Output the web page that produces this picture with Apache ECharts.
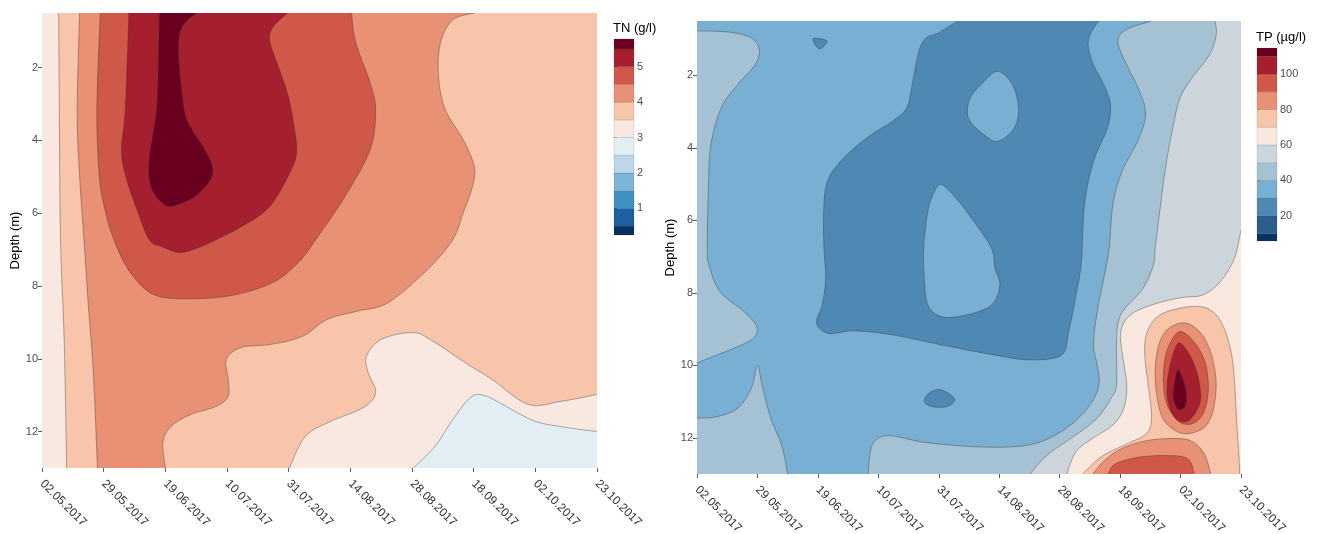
<!DOCTYPE html>
<html>
<head>
<meta charset="utf-8">
<script src="https://cdn.jsdelivr.net/npm/echarts@6/dist/echarts.min.js"></script>
<style>
  html, body { margin: 0; padding: 0; background: #ffffff; }
  #chart { width: 1322px; height: 534px; }
</style>
</head>
<body>
<div id="chart"></div>
<script>
// Sampling dates (evenly spaced sampling index on the x axis)
const sampleDates = ['02.05.2017', '29.05.2017', '19.06.2017', '10.07.2017', '31.07.2017',
                     '14.08.2017', '28.08.2017', '18.09.2017', '02.10.2017', '23.10.2017'];
const depthTicks = [2, 4, 6, 8, 10, 12];
const depthRange = [0.5, 13];
const indexRange = [0, 9];

// Colour classes (lower bounds of each class, plus the upper limit)
const tnBreaks = [0.25, 0.5, 1, 1.5, 2, 2.5, 3, 3.5, 4, 4.5, 5, 5.5, 5.78];
const tnColors = ['#053061', '#1f5fa4', '#4190c4', '#7cb5d7', '#bad8ea', '#e3edf4',
                  '#f9e8e0', '#f8c5ab', '#e99174', '#d05848', '#a61f2e', '#6a0020'];
const tnLegendTicks = [1, 2, 3, 4, 5];

const tpBreaks = [5.8, 10, 20, 30, 40, 50, 60, 70, 80, 90, 100, 110, 114.7];
const tpColors = ['#0b3162', '#2d5d8c', '#4f88b3', '#7aafd4', '#a5c2d5', '#ccd5db',
                  '#f9e8e0', '#f8c5ab', '#e99174', '#d05848', '#a61f2e', '#6a0020'];
const tpLegendTicks = [20, 40, 60, 80, 100];

// ---- TN isolines: [sampling index, depth m] ----
const tnIso35a = [[0.27, 0.5], [0.28, 3], [0.30, 6.7], [0.36, 9.5], [0.40, 13]];
const tnIso35b = [[4.01, 13], [4.27, 12.13], [4.68, 11.72], [5.21, 11.34], [5.41, 10.93], [5.29, 10.38],
                  [5.26, 9.94], [5.5, 9.47], [6.02, 9.28], [6.37, 9.55], [6.83, 10.07], [7.3, 10.57],
                  [7.88, 11.25], [8.41, 11.17], [9, 10.98]];
const tnIso40a = [[0.61, 0.5], [0.57, 3.2], [0.61, 5.0], [0.68, 6.7], [0.75, 8.5], [0.83, 10.3], [0.9, 13]];
const tnIso40b = [[2.0, 13], [1.96, 12.3], [2.09, 11.86], [2.41, 11.53], [2.82, 11.31], [3.02, 11.03],
                  [3.02, 10.57], [2.99, 10.02], [3.23, 9.69], [3.69, 9.61], [4.22, 9.39], [4.62, 8.92],
                  [5.09, 8.7], [5.61, 8.46], [6.25, 7.55], [6.66, 6.73], [6.83, 5.99], [6.98, 5.27],
                  [7.01, 4.72], [6.83, 3.98], [6.54, 3.16], [6.43, 2.26], [6.46, 1.32], [6.66, 0.69], [7.01, 0.5]];
const tnIso45 = [[0.945, 0.5], [0.89, 3.2], [0.93, 5.0], [1.02, 5.9], [1.16, 6.7], [1.42, 7.6], [1.83, 8.25],
                 [2.47, 8.35], [3.11, 8.25], [3.75, 7.9], [4.16, 7.35], [4.45, 6.7], [4.91, 5.55], [5.32, 4.26],
                 [5.41, 3.16], [5.32, 2.42], [5.09, 1.32], [5.02, 0.5]];
const tnIso50 = [[1.41, 0.5], [1.35, 3.16], [1.29, 4.26], [1.36, 5.0], [1.54, 5.9], [1.74, 6.73], [1.95, 6.92],
                 [2.24, 7.08], [2.53, 6.95], [2.82, 6.73], [3.23, 6.37], [3.69, 5.82], [4.04, 4.81], [4.13, 4.26],
                 [4.07, 3.44], [3.98, 2.7], [3.81, 1.87], [3.69, 1.24], [3.75, 0.88], [3.98, 0.5]];
const tnIso55 = [[1.905, 0.5], [1.89, 1.8], [1.86, 3.16], [1.74, 4.53], [1.77, 5.27], [1.95, 5.71], [2.12, 5.8],
                 [2.47, 5.55], [2.73, 5.08], [2.76, 4.72], [2.64, 4.26], [2.35, 3.44], [2.27, 2.7],
                 [2.21, 1.52], [2.27, 0.88], [2.5, 0.5]];
const tnIso30 = [[6.02, 13], [6.37, 12.41], [6.66, 11.67], [6.95, 11.06], [7.18, 11.01], [7.53, 11.31],
                 [8.0, 11.72], [8.52, 11.89], [9, 12.0]];

// ---- TP isolines: [sampling index, depth m] ----
const tpIso40a = [[0, 0.77], [0.55, 0.81], [0.90, 0.97], [1.03, 1.29], [0.96, 1.71], [0.67, 2.26], [0.40, 2.9],
                  [0.23, 3.91], [0.19, 5.02], [0.17, 6.76], [0.20, 7.23], [0.38, 7.97], [0.78, 8.52],
                  [0.99, 8.94], [0.93, 9.26], [0.61, 9.53], [0.26, 9.76], [0, 9.94]];
const tpIso40b = [[0, 11.46], [0.32, 11.42], [0.67, 11.19], [0.90, 10.63], [1.0, 10.0], [1.075, 10.54],
                  [1.22, 11.46], [1.40, 12.2], [1.50, 13]];
const tpIso40c = [[2.83, 13], [2.88, 12.29], [3.0, 12.01], [3.23, 11.95], [3.70, 12.11], [4.17, 12.2],
                  [4.63, 12.25], [5.22, 12.25], [5.69, 12.11], [6.15, 11.69], [6.50, 11.10], [6.65, 10.54],
                  [6.62, 9.99], [6.56, 9.44], [6.62, 8.52], [6.73, 7.60], [6.82, 6.76], [6.88, 5.57],
                  [7.03, 4.65], [7.29, 3.82], [7.42, 3.09], [7.32, 2.44], [7.03, 1.43], [6.97, 0.97],
                  [7.15, 0.7], [7.52, 0.5]];
const tpIso20 = [[4.31, 0.5], [3.99, 0.83], [3.79, 0.97], [3.67, 1.34], [3.56, 2.26], [3.47, 2.90], [3.23, 3.27],
                 [2.88, 3.64], [2.48, 4.19], [2.18, 4.83], [2.10, 5.57], [2.10, 6.76], [2.13, 7.60], [2.07, 8.34],
                 [1.98, 8.84], [2.18, 9.12], [2.59, 9.05], [3.23, 9.16], [4.05, 9.44], [4.93, 9.72], [5.51, 9.85],
                 [6.03, 9.72], [6.15, 9.07], [6.27, 8.06], [6.36, 7.14], [6.41, 5.57], [6.56, 4.37], [6.79, 3.45],
                 [6.84, 2.81], [6.73, 2.26], [6.56, 1.71], [6.47, 1.16], [6.53, 0.79], [6.65, 0.5]];
const tpIsle30a = [[4.98, 1.89], [5.22, 2.26], [5.32, 2.90], [5.25, 3.45], [4.98, 3.82], [4.75, 3.64],
                   [4.49, 3.18], [4.52, 2.63], [4.75, 2.17]];
const tpIsle30b = [[4.05, 5.02], [4.28, 5.38], [4.58, 6.03], [4.87, 6.76], [4.93, 7.32], [5.01, 7.79],
                   [4.87, 8.34], [4.46, 8.61], [4.05, 8.66], [3.82, 8.34], [3.76, 7.60], [3.75, 6.76],
                   [3.82, 5.75], [3.93, 5.20]];
const tpIsle20a = [[1.92, 0.99], [2.15, 1.05], [2.02, 1.27]];
const tpIsle20b = [[3.76, 10.96], [3.87, 10.73], [4.05, 10.68], [4.26, 10.92], [4.17, 11.12], [3.99, 11.16], [3.82, 11.10]];
const tpIso50 = [[8.57, 0.5], [8.59, 0.88], [8.48, 1.43], [8.19, 2.07], [7.99, 2.63], [7.87, 3.45], [7.75, 4.56],
                 [7.67, 5.57], [7.58, 6.76], [7.55, 7.23], [7.38, 7.88], [7.08, 8.43], [6.97, 8.80], [6.94, 9.44],
                 [6.94, 10.54], [6.85, 10.91], [6.62, 11.46], [6.27, 11.92], [5.80, 12.47], [5.51, 13]];
const tpIso60 = [[9, 6.27], [8.89, 7.05], [8.66, 7.69], [8.37, 8.06], [8.02, 8.13], [7.55, 8.32], [7.17, 8.61],
                 [7.01, 9.07], [7.04, 9.72], [7.11, 10.54], [7.06, 11.19], [6.88, 11.65], [6.56, 12.0],
                 [6.27, 12.38], [6.12, 13]];
const tpIso70 = [[6.38, 13], [6.56, 12.70], [6.78, 12.43], [7.11, 12.17], [7.44, 11.88], [7.52, 11.42],
                 [7.47, 10.59], [7.41, 9.76], [7.44, 9.12], [7.66, 8.61], [8.16, 8.38], [8.49, 8.47],
                 [8.71, 8.94], [8.85, 9.76], [8.90, 10.68], [8.93, 11.60], [8.96, 12.34], [8.98, 13]];
const tpIso80a = [[7.99, 8.84], [7.77, 9.03], [7.63, 9.49], [7.58, 10.22], [7.62, 10.96], [7.72, 11.51],
                  [7.94, 11.83], [8.16, 11.88], [8.41, 11.69], [8.54, 11.23], [8.59, 10.50], [8.52, 9.76],
                  [8.38, 9.21], [8.18, 8.89]];
const tpIso80b = [[6.55, 13], [6.72, 12.66], [7.0, 12.32], [7.43, 12.08], [7.96, 12.02], [8.22, 12.13],
                  [8.40, 12.47], [8.50, 13]];
const tpIso90a = [[7.99, 9.07], [7.80, 9.49], [7.72, 10.13], [7.74, 10.87], [7.85, 11.32], [8.02, 11.60],
                  [8.21, 11.60], [8.38, 11.32], [8.46, 10.68], [8.41, 9.94], [8.24, 9.39]];
const tpIso90b = [[6.80, 13], [6.92, 12.72], [7.30, 12.54], [7.77, 12.49], [8.12, 12.58], [8.23, 13]];
const tpIso100 = [[7.96, 9.39], [7.85, 9.85], [7.78, 10.50], [7.80, 11.05], [7.91, 11.46], [8.05, 11.56],
                  [8.18, 11.46], [8.32, 11.05], [8.32, 10.59], [8.24, 10.04], [8.10, 9.58]];
const tpIso110 = [[7.96, 10.13], [7.90, 10.50], [7.88, 10.87], [7.93, 11.14], [7.99, 11.23], [8.07, 11.14],
                  [8.10, 10.87], [8.06, 10.50]];

// Filled areas, painted in order (level = lower bound of the class)
const tnAreas = [
  { level: 3,   parts: ['TL', 'BL', 'BR', 'TR'] },
  { level: 3.5, parts: [tnIso35a, tnIso35b, 'TR'] },
  { level: 4,   parts: [tnIso40a, tnIso40b] },
  { level: 4.5, parts: [tnIso45] },
  { level: 5,   parts: [tnIso50] },
  { level: 5.5, parts: [tnIso55] },
  { level: 2.5, parts: [tnIso30, 'BR'] }
];
const tpAreas = [
  { level: 40,  parts: ['TL', 'BL', 'BR', 'TR'] },
  { level: 30,  parts: [tpIso40a, tpIso40b, tpIso40c, 'TL'] },
  { level: 20,  parts: [tpIso20] },
  { level: 30,  parts: [tpIsle30a], loop: true },
  { level: 30,  parts: [tpIsle30b], loop: true },
  { level: 20,  parts: [tpIsle20a], loop: true },
  { level: 20,  parts: [tpIsle20b], loop: true },
  { level: 50,  parts: [tpIso50, 'BR', 'TR'] },
  { level: 60,  parts: [tpIso60, 'BR'] },
  { level: 70,  parts: [tpIso70] },
  { level: 80,  parts: [tpIso80a], loop: true },
  { level: 80,  parts: [tpIso80b] },
  { level: 90,  parts: [tpIso90a], loop: true },
  { level: 90,  parts: [tpIso90b] },
  { level: 100, parts: [tpIso100], loop: true },
  { level: 110, parts: [tpIso110], loop: true }
];

const CORNERS = {
  TL: [indexRange[0], depthRange[0]], TR: [indexRange[1], depthRange[0]],
  BL: [indexRange[0], depthRange[1]], BR: [indexRange[1], depthRange[1]]
};
const FONT = '"Liberation Sans", Arial, sans-serif';

function classColor(value, breaks, colors) {
  for (let i = colors.length - 1; i >= 0; i--) if (value >= breaks[i] - 1e-9) return colors[i];
  return colors[0];
}

// Catmull-Rom curve through pixel points, as SVG cubic segments
function curveSegments(p, closed) {
  const n = p.length;
  const get = i => closed ? p[(i + n) % n] : p[Math.max(0, Math.min(n - 1, i))];
  const last = closed ? n : n - 1;
  let s = '';
  for (let i = 0; i < last; i++) {
    const p0 = get(i - 1), p1 = get(i), p2 = get(i + 1), p3 = get(i + 2);
    const c1x = p1[0] + (p2[0] - p0[0]) / 6, c1y = p1[1] + (p2[1] - p0[1]) / 6;
    const c2x = p2[0] - (p3[0] - p1[0]) / 6, c2y = p2[1] - (p3[1] - p1[1]) / 6;
    s += 'C' + c1x + ' ' + c1y + ' ' + c2x + ' ' + c2y + ' ' + p2[0] + ' ' + p2[1];
  }
  return s;
}

function areaRenderer(areas, breaks, colors) {
  return function (params, api) {
    const area = areas[params.dataIndex];
    let fill = '', stroke = '';
    area.parts.forEach(part => {
      if (typeof part === 'string') {
        const c = api.coord(CORNERS[part]);
        fill += (fill ? 'L' : 'M') + c[0] + ' ' + c[1];
        return;
      }
      const pts = part.map(v => api.coord(v));
      const seg = curveSegments(pts, !!area.loop);
      fill += (fill ? 'L' : 'M') + pts[0][0] + ' ' + pts[0][1] + seg;
      stroke += 'M' + pts[0][0] + ' ' + pts[0][1] + seg + (area.loop ? 'Z' : '');
    });
    fill += 'Z';
    const children = [{
      type: 'path', shape: { pathData: fill },
      style: { fill: classColor(area.level, breaks, colors), stroke: null }
    }];
    if (stroke) {
      children.push({
        type: 'path', shape: { pathData: stroke },
        style: { fill: 'none', stroke: 'rgba(45,45,45,0.55)', lineWidth: 0.7 }
      });
    }
    return { type: 'group', children: children };
  };
}

function legendRenderer(breaks, colors) {
  return function (params, api) {
    const i = params.dataIndex;
    const a = api.coord([0, breaks[i]]);
    const b = api.coord([1, breaks[i + 1]]);
    return {
      type: 'rect',
      shape: { x: a[0], y: b[1], width: b[0] - a[0], height: a[1] - b[1] },
      style: { fill: colors[i], stroke: 'rgba(0,0,0,0.18)', lineWidth: 0.6 }
    };
  };
}

function plotXAxis(gridIndex) {
  return {
    gridIndex: gridIndex, type: 'value', min: indexRange[0], max: indexRange[1], interval: 1,
    axisLine: { show: false }, splitLine: { show: false },
    axisTick: { show: true, length: 4, lineStyle: { color: '#333333', width: 0.8 } },
    axisLabel: {
      rotate: -45, margin: 14, fontSize: 12, color: '#333333', fontFamily: FONT,
      formatter: v => sampleDates[Math.round(v)] || ''
    }
  };
}
function plotYAxis(gridIndex, gap) {
  return {
    gridIndex: gridIndex, type: 'value', min: depthRange[0], max: depthRange[1], inverse: true,
    axisLine: { show: false }, splitLine: { show: false },
    axisTick: { show: true, customValues: depthTicks, length: 4, lineStyle: { color: '#333333', width: 0.8 } },
    axisLabel: { customValues: depthTicks, fontSize: 11, color: '#4d4d4d', margin: 4, fontFamily: FONT },
    name: 'Depth (m)', nameLocation: 'middle', nameGap: gap,
    nameTextStyle: { fontSize: 13, color: '#000000', fontFamily: FONT }
  };
}
function legendYAxis(gridIndex, breaks, ticks) {
  return {
    gridIndex: gridIndex, type: 'value', position: 'right',
    min: breaks[0], max: breaks[breaks.length - 1],
    axisLine: { show: false }, splitLine: { show: false },
    axisTick: { show: true, customValues: ticks, length: 3, lineStyle: { color: '#333333', width: 0.8 } },
    axisLabel: { customValues: ticks, fontSize: 11, color: '#4d4d4d', margin: 3, fontFamily: FONT }
  };
}

const chart = echarts.init(document.getElementById('chart'), null, { renderer: 'canvas' });
chart.setOption({
  animation: false,
  backgroundColor: '#ffffff',
  textStyle: { fontFamily: FONT },
  title: [
    { text: 'TN (g/l)', left: 613, top: 22, padding: 0,
      textStyle: { fontSize: 13, fontWeight: 'normal', color: '#000000', fontFamily: FONT } },
    { text: 'TP (µg/l)', left: 1256, top: 31, padding: 0,
      textStyle: { fontSize: 13, fontWeight: 'normal', color: '#000000', fontFamily: FONT } }
  ],
  grid: [
    { left: 42, top: 13, width: 555, height: 455, outerBoundsMode: 'none' },
    { left: 697, top: 21, width: 544, height: 453, outerBoundsMode: 'none' },
    { left: 614, top: 39, width: 20, height: 196, outerBoundsMode: 'none' },
    { left: 1257, top: 48, width: 20, height: 193, outerBoundsMode: 'none' }
  ],
  xAxis: [
    plotXAxis(0),
    plotXAxis(1),
    { gridIndex: 2, type: 'value', min: 0, max: 1, show: false },
    { gridIndex: 3, type: 'value', min: 0, max: 1, show: false }
  ],
  yAxis: [
    plotYAxis(0, 16),
    plotYAxis(1, 15),
    legendYAxis(2, tnBreaks, tnLegendTicks),
    legendYAxis(3, tpBreaks, tpLegendTicks)
  ],
  series: [
    { type: 'custom', name: 'TN', xAxisIndex: 0, yAxisIndex: 0, clip: true, silent: true,
      data: tnAreas.map((a, i) => [i, a.level]), renderItem: areaRenderer(tnAreas, tnBreaks, tnColors) },
    { type: 'custom', name: 'TP', xAxisIndex: 1, yAxisIndex: 1, clip: true, silent: true,
      data: tpAreas.map((a, i) => [i, a.level]), renderItem: areaRenderer(tpAreas, tpBreaks, tpColors) },
    { type: 'custom', name: 'TN scale', xAxisIndex: 2, yAxisIndex: 2, silent: true,
      data: tnColors.map((c, i) => [i, tnBreaks[i]]), renderItem: legendRenderer(tnBreaks, tnColors) },
    { type: 'custom', name: 'TP scale', xAxisIndex: 3, yAxisIndex: 3, silent: true,
      data: tpColors.map((c, i) => [i, tpBreaks[i]]), renderItem: legendRenderer(tpBreaks, tpColors) }
  ]
});
</script>
</body>
</html>
